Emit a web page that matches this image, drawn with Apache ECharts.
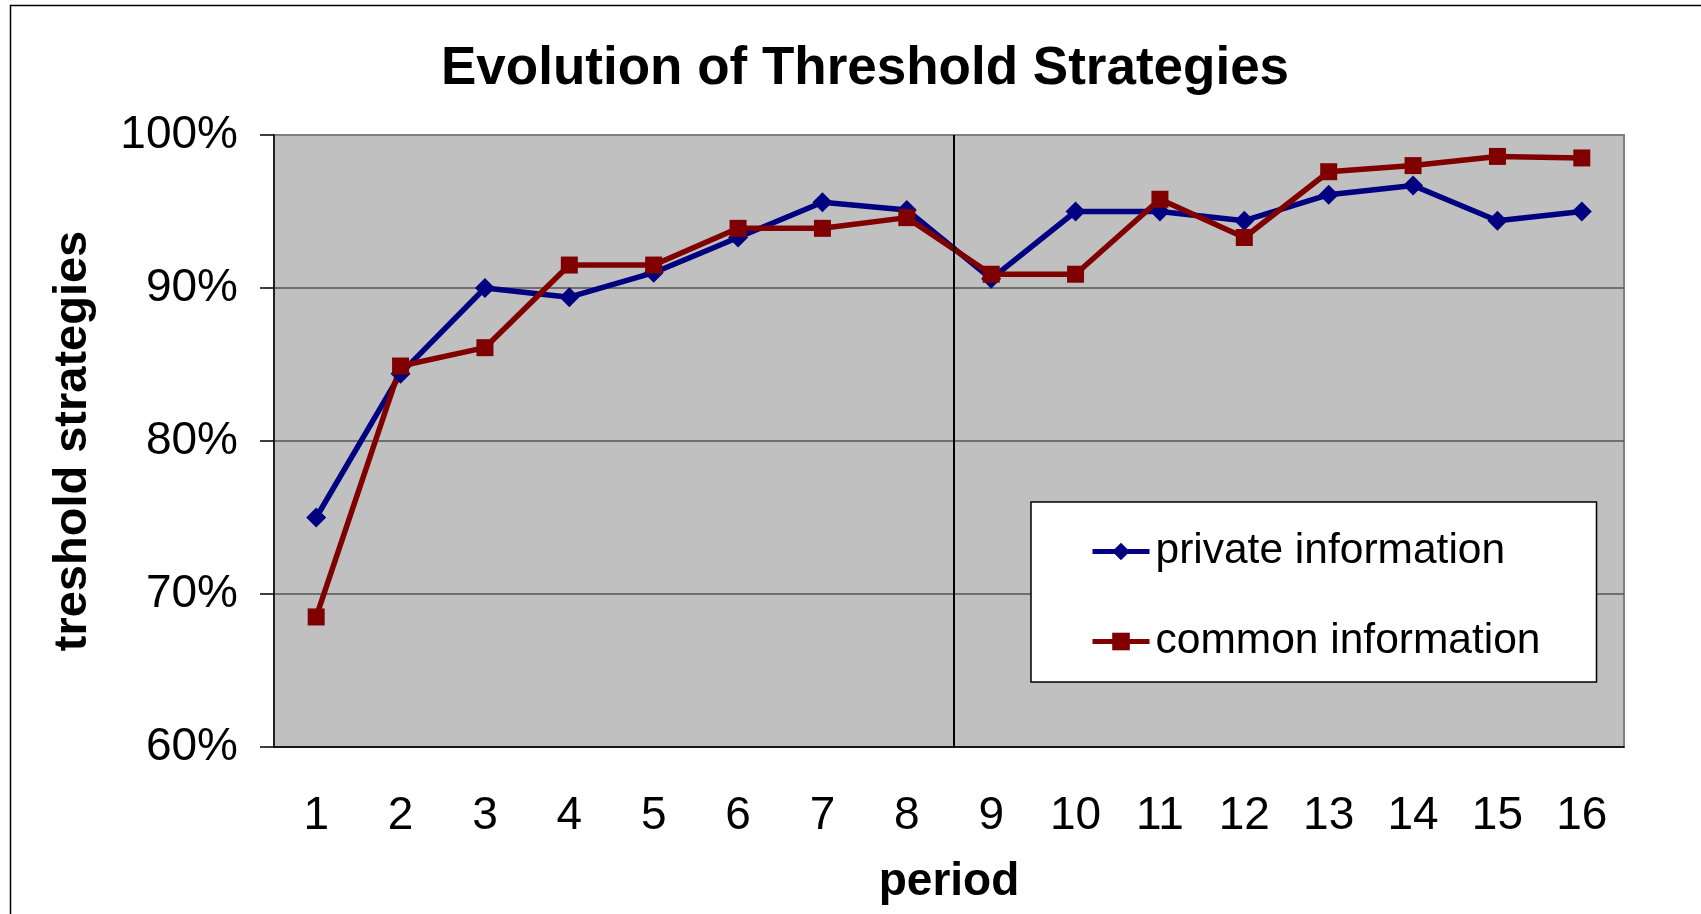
<!DOCTYPE html>
<html>
<head>
<meta charset="utf-8">
<title>Evolution of Threshold Strategies</title>
<script src="https://cdn.jsdelivr.net/npm/echarts@6/dist/echarts.min.js"></script>
<style>
  html, body { margin: 0; padding: 0; background: #fff; }
  #chart { width: 1701px; height: 914px; }
</style>
</head>
<body>
<div id="chart"></div>
<script>
// share of threshold strategies per period (%)
const periods = ["1", "2", "3", "4", "5", "6", "7", "8", "9", "10", "11", "12", "13", "14", "15", "16"];
const privateInfo = [75.0, 84.4, 90.0, 89.4, 91.0, 93.3, 95.6, 95.1, 90.6, 95.0, 95.0, 94.4, 96.1, 96.7, 94.4, 95.0];
const commonInfo = [68.5, 84.9, 86.1, 91.5, 91.5, 93.9, 93.9, 94.6, 90.9, 90.9, 95.8, 93.3, 97.6, 98.0, 98.6, 98.5];
const yTicks = [60, 70, 80, 90, 100];
// vertical separator between the two halves, in period units from the left edge
const separatorAt = [8.06];

const font = '"Liberation Sans", Arial, sans-serif';

const chart = echarts.init(document.getElementById("chart"));

const option = {
  animation: false,
  backgroundColor: "#fff",
  title: {
    text: "Evolution of Threshold Strategies",
    left: 441,
    top: 43,
    padding: 0,
    textStyle: { fontSize: 53, fontWeight: "bold", color: "#000", fontFamily: font }
  },
  legend: {
    orient: "vertical",
    left: 1031,
    top: 502,
    data: ["private information", "common information"],
    padding: [28, 56, 19, 59],
    itemGap: 47,
    itemWidth: 57,
    itemHeight: 22,
    backgroundColor: "#fff",
    borderColor: "#000",
    borderWidth: 1.5,
    lineStyle: { width: 5 },
    textStyle: { fontSize: 42.5, color: "#000", fontFamily: font, padding: [0, 0, 0, 1] }
  },
  grid: {
    left: 274,
    top: 135,
    width: 1350,
    height: 612,
    show: true,
    backgroundColor: "#c0c0c0",
    borderColor: "#808080",
    borderWidth: 2
  },
  xAxis: [
    {
      type: "category",
      data: periods,
      boundaryGap: true,
      name: "period",
      nameLocation: "middle",
      nameGap: 112,
      nameTextStyle: { fontSize: 46, fontWeight: "bold", color: "#000", fontFamily: font },
      axisLine: { lineStyle: { color: "#000", width: 1.5 } },
      axisTick: { length: 14, lineStyle: { color: "#000", width: 1.5 } },
      axisLabel: { margin: 46, fontSize: 46, color: "#000", fontFamily: font },
      splitLine: { show: false }
    },
    {
      // hidden helper axis for the separator line
      type: "value",
      min: 0,
      max: periods.length,
      show: false
    }
  ],
  yAxis: {
    type: "value",
    min: yTicks[0],
    max: yTicks[yTicks.length - 1],
    interval: yTicks[1] - yTicks[0],
    axisLine: { show: true, lineStyle: { color: "#000", width: 1.5 } },
    axisTick: { show: true, length: 14, lineStyle: { color: "#000", width: 1.5 } },
    axisLabel: {
      formatter: "{value}%",
      margin: 36,
      fontSize: 46,
      color: "#000",
      fontFamily: font,
      padding: [7, 0, 0, 0]
    },
    splitLine: { showMaxLine: false, lineStyle: { color: "#555", width: 1.5 } }
  },
  series: [
    {
      name: "private information",
      type: "line",
      data: privateInfo,
      symbol: "diamond",
      symbolSize: 20,
      color: "#000080",
      lineStyle: { width: 5.5 }
    },
    {
      name: "common information",
      type: "line",
      data: commonInfo,
      symbol: "rect",
      symbolSize: 17,
      color: "#800000",
      lineStyle: { width: 5.5 }
    },
    {
      type: "line",
      xAxisIndex: 1,
      data: [],
      silent: true,
      markLine: {
        silent: true,
        symbol: ["none", "none"],
        label: { show: false },
        lineStyle: { color: "#000", width: 2, type: "solid" },
        data: separatorAt.map((v) => ({ xAxis: v }))
      }
    }
  ],
  graphic: [
    {
      type: "rect",
      silent: true,
      z: -10,
      shape: { x: 10.5, y: 5.5, width: 1800, height: 1000 },
      style: { fill: "none", stroke: "#000", lineWidth: 1.5 }
    },
    {
      type: "text",
      x: 73,
      y: 441,
      rotation: Math.PI / 2,
      silent: true,
      style: {
        text: "treshold strategies",
        fontSize: 47,
        fontWeight: "bold",
        fontFamily: font,
        fill: "#000",
        align: "center",
        verticalAlign: "middle",
        textAlign: "center",
        textVerticalAlign: "middle"
      }
    }
  ]
};

chart.setOption(option);
window.addEventListener("resize", () => chart.resize());
</script>
</body>
</html>
